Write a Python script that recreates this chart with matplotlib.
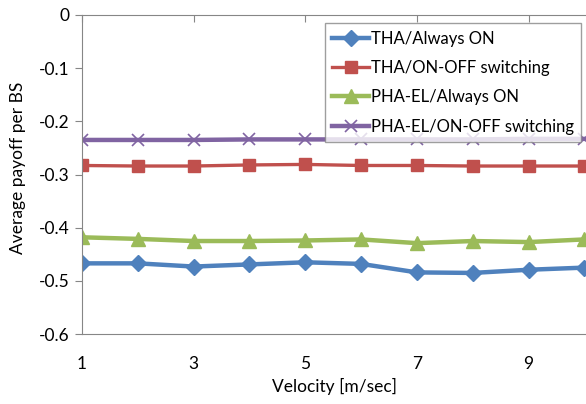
import matplotlib
matplotlib.use("Agg")
import matplotlib.pyplot as plt

plt.rcParams['font.family'] = ['Lato', 'DejaVu Sans']

velocity = [1, 2, 3, 4, 5, 6, 7, 8, 9, 10]
tha_on = [-0.467, -0.467, -0.473, -0.469, -0.465, -0.468, -0.484, -0.485, -0.479, -0.475]
tha_onoff = [-0.283, -0.284, -0.284, -0.282, -0.281, -0.283, -0.283, -0.284, -0.284, -0.284]
pha_on = [-0.418, -0.421, -0.425, -0.425, -0.424, -0.422, -0.429, -0.425, -0.427, -0.422]
pha_onoff = [-0.235, -0.235, -0.235, -0.234, -0.234, -0.234, -0.234, -0.234, -0.233, -0.233]
labels = ["THA/Always ON", "THA/ON-OFF switching", "PHA-EL/Always ON", "PHA-EL/ON-OFF switching"]

fig = plt.figure(figsize=(5.86, 4.04), dpi=100)
ax = fig.add_axes([0.140, 0.173, 0.860, 0.790])

ax.plot(velocity, tha_on, color='#4F81BD', lw=3.2, marker='D', ms=8, label=labels[0])
ax.plot(velocity, tha_onoff, color='#C0504D', lw=2.4, marker='s', ms=9, label=labels[1])
ax.plot(velocity, pha_on, color='#9BBB59', lw=3.2, marker='^', ms=10, label=labels[2])
ax.plot(velocity, pha_onoff, color='#8064A2', lw=3.2, marker='x', ms=9, mew=1.2, label=labels[3])

ax.set_xlim(1, 10.03)
ax.set_ylim(-0.6, 0)
ax.set_yticks([0, -0.1, -0.2, -0.3, -0.4, -0.5, -0.6])
ax.set_yticklabels(['0', '-0.1', '-0.2', '-0.3', '-0.4', '-0.5', '-0.6'])
ax.set_xticks([1, 3, 5, 7, 9])

for s in ['left', 'bottom', 'top']:
    ax.spines[s].set_color('#868686')
ax.spines['right'].set_visible(False)
ax.tick_params(axis='y', direction='out', length=5, color='#868686', labelsize=12.5, pad=4)
ax.tick_params(axis='x', direction='in', length=5, color='#868686', labelsize=12.5, pad=16,
               top=True, bottom=False)

ax.set_xlabel("Velocity [m/sec]", fontsize=12.5, labelpad=4)
ax.set_ylabel("Average payoff per BS", fontsize=12.5, labelpad=8)
ax.yaxis.set_label_coords(-0.112, 0.52)

leg = ax.legend(loc='upper right', bbox_to_anchor=(0.997, 0.985), fontsize=12, frameon=True,
                fancybox=False, edgecolor='#868686', handlelength=2.2, borderpad=0.45,
                labelspacing=0.8, handletextpad=0.1, borderaxespad=0.2)
leg.get_frame().set_linewidth(1.0)

fig.savefig("out.png", dpi=100)
